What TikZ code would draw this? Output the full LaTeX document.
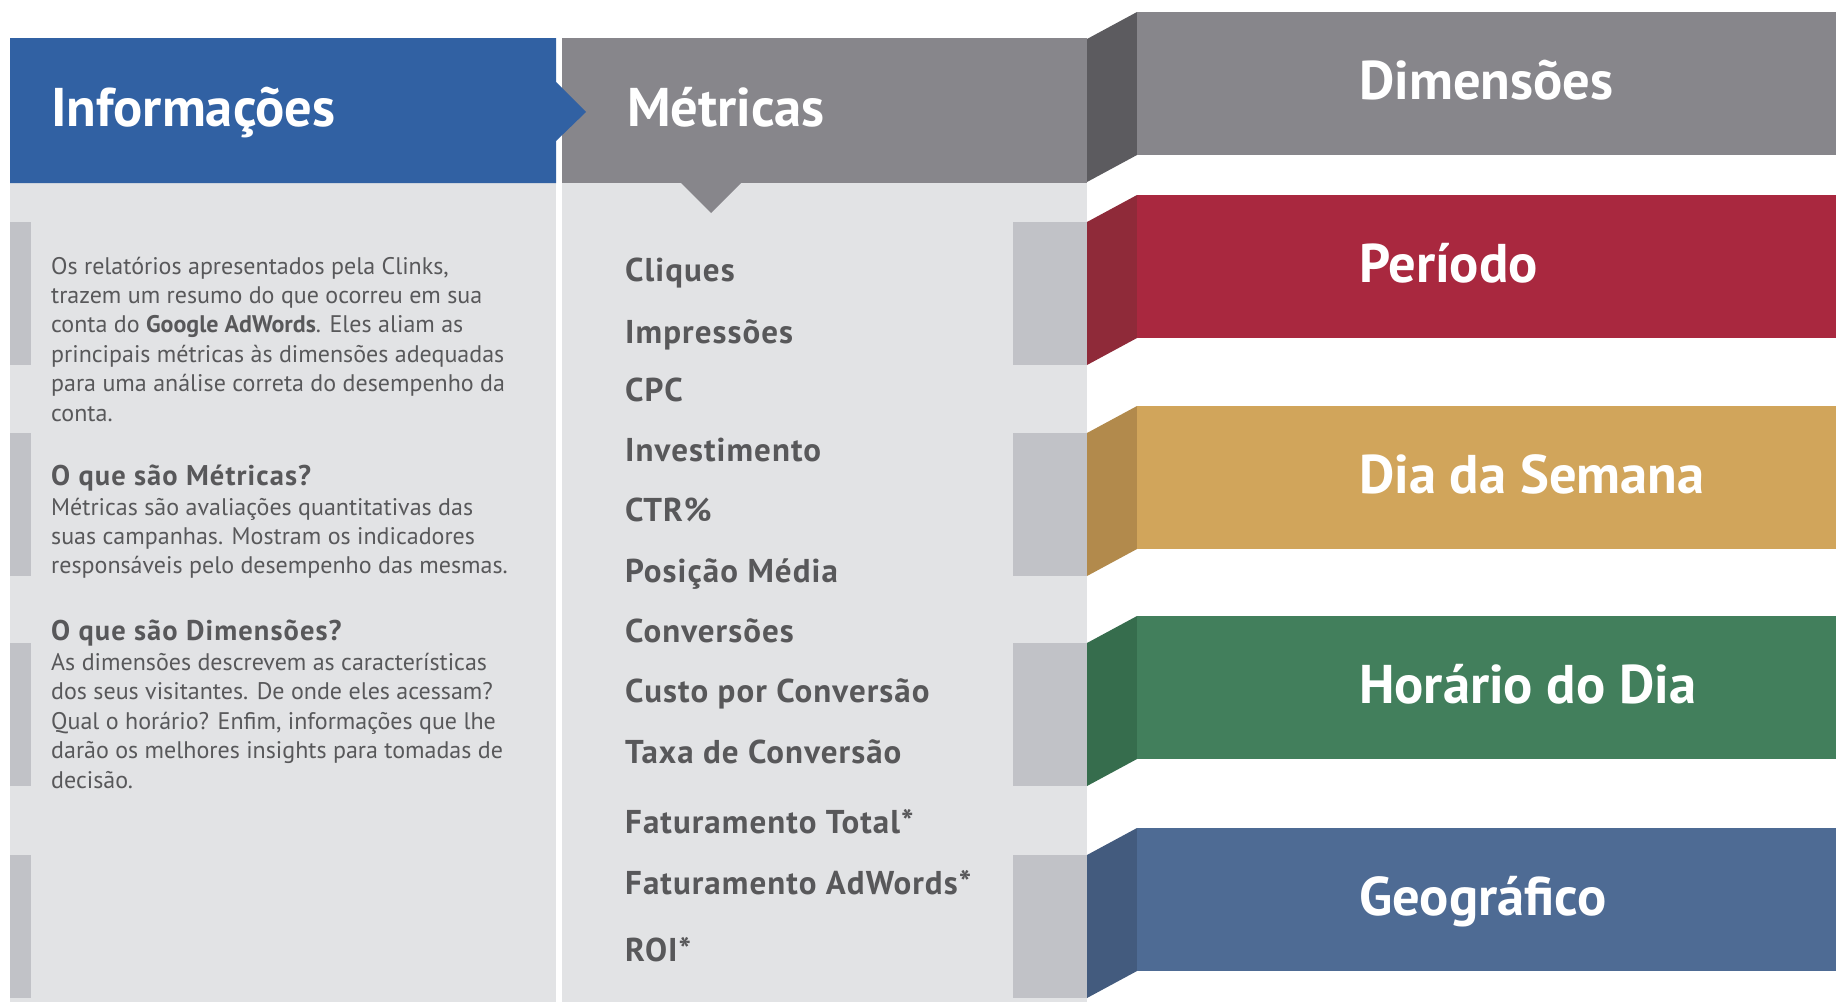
\documentclass[tikz,border=0pt]{standalone}
\usepackage{fontspec}
\setmainfont{PT Sans}
\definecolor{infoblue}{HTML}{3161A3}
\definecolor{hdrgray}{HTML}{87868B}
\definecolor{sidegray}{HTML}{5C5B5F}
\definecolor{panel}{HTML}{E2E3E5}
\definecolor{barg}{HTML}{C1C2C7}
\definecolor{txtgray}{HTML}{58585A}
\definecolor{perred}{HTML}{A9283F}
\definecolor{perside}{HTML}{8F2A39}
\definecolor{diagold}{HTML}{D1A55B}
\definecolor{diaside}{HTML}{B28A4C}
\definecolor{horgreen}{HTML}{427F5C}
\definecolor{horside}{HTML}{366D4D}
\definecolor{geoblue}{HTML}{4E6B94}
\definecolor{geoside}{HTML}{435B7E}
\newcommand\bodyf{\fontsize{24}{28}\selectfont}
\newcommand\subhf{\fontsize{28.5}{32}\selectfont\bfseries\addfontfeature{LetterSpace=3.8}}
\newcommand\listf{\fontsize{33}{38}\selectfont\bfseries\addfontfeature{LetterSpace=3.2}}
\newcommand\headf{\fontsize{54.5}{60}\selectfont\bfseries}
\begin{document}
\begin{tikzpicture}[x=1pt,y=-1pt,
  bodytxt/.style={anchor=base west, inner sep=0pt, text=txtgray, font=\bodyf},
  subhead/.style={anchor=base west, inner sep=0pt, text=txtgray, font=\subhf},
  listitem/.style={anchor=base west, inner sep=0pt, text=txtgray, font=\listf},
  headlabel/.style={anchor=base west, inner sep=0pt, text=white, font=\headf}]
\useasboundingbox (0,0) rectangle (1836,1002);
\fill[white] (0,0) rectangle (1836,1002);
% panels
\fill[panel] (10,183) rectangle (556,1002);
\fill[panel] (562,183) rectangle (1087,1002);
% gray bars
\foreach \t in {195,406,616,828} {
  \fill[barg] (1013,{\t+27}) rectangle (1087,{\t+170});
  \fill[barg] (10,{\t+27}) rectangle (31,{\t+170});
}
% headers
\fill[hdrgray] (562,38) rectangle (1087,183);
\fill[hdrgray] (680,182) -- (742,182) -- (711,213) -- cycle;
\fill[infoblue] (10,38) -- (556,38) -- (556,82) -- (586,112) -- (556,141) -- (556,183) -- (10,183) -- cycle;
\node[headlabel] (info) at (51,126) {Informações};
\node[headlabel] (metr) at (627,126) {Métricas};
% dimension bands
\foreach \t/\c/\s/\n/\lab in {12/hdrgray/sidegray/dim/Dimensões,
  195/perred/perside/per/Período,
  406/diagold/diaside/dia/Dia da Semana,
  616/horgreen/horside/hor/Horário do Dia,
  828/geoblue/geoside/geo/Geográfico} {
  \fill[\s] (1087,{\t+27}) -- (1137,\t) -- (1137,{\t+143}) -- (1087,{\t+170}) -- cycle;
  \fill[\c] (1137,\t) rectangle (1836,{\t+143});
  \node[headlabel] (\n) at (1359,{\t+87}) {\lab};
}
% left text
\foreach \l [count=\i from 0] in {{Os relatórios apresentados pela Clinks,},
  trazem um resumo do que ocorreu em sua,
  conta do \textbf{Google AdWords}. Eles aliam as,
  principais métricas às dimensões adequadas,
  para uma análise correta do desempenho da,
  conta.}
  \node[bodytxt] (pa\i) at (51,{274+29.4*\i}) {\l};
\node[subhead] (hmet) at (51,485) {O que são Métricas?};
\foreach \l [count=\i from 0] in {Métricas são avaliações quantitativas das,
  suas campanhas. Mostram os indicadores,
  responsáveis pelo desempenho das mesmas.}
  \node[bodytxt] (pb\i) at (51,{515+29.3*\i}) {\l};
\node[subhead] (hdim) at (51,640) {O que são Dimensões?};
\foreach \l [count=\i from 0] in {As dimensões descrevem as características,
  dos seus visitantes. De onde eles acessam?,
  {Qual o horário? Enfim, informações que lhe},
  darão os melhores insights para tomadas de,
  decisão.}
  \node[bodytxt] (pc\i) at (51,{670+29.5*\i}) {\l};
% metrics list
\foreach \l/\y [count=\i] in {Cliques/281, Impressões/343, CPC/401, Investimento/461,
  CTR\%/521, Posição Média/582, Conversões/642, Custo por Conversão/702,
  Taxa de Conversão/763, Faturamento Total*/833, Faturamento AdWords*/894, ROI*/961}
  \node[listitem] (m\i) at (625,\y) {\l};
\end{tikzpicture}
\end{document}
